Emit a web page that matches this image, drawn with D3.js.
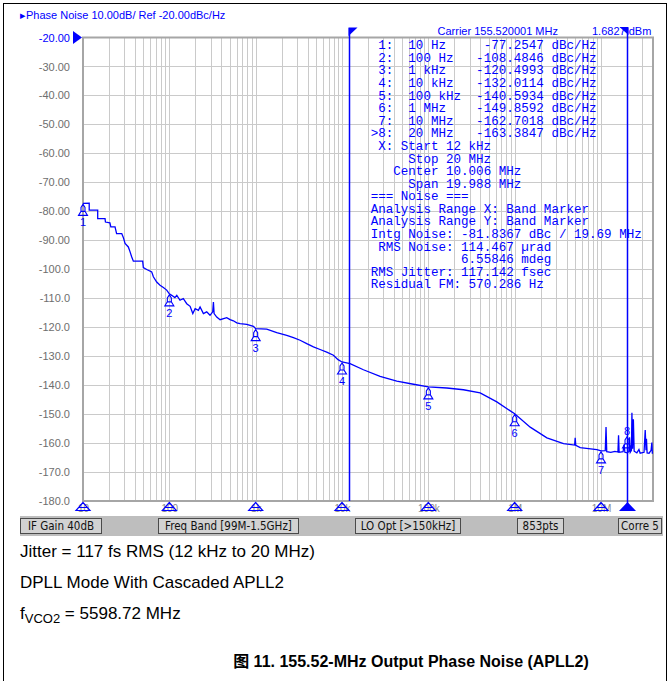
<!DOCTYPE html>
<html><head><meta charset="utf-8">
<script src="https://cdn.jsdelivr.net/npm/d3@7"></script>
<style>body{margin:0;background:#fff}svg{display:block}</style>
</head><body>
<svg id="c" width="669" height="681"></svg>
<script>
// ---------- DATA ----------
const freqHz = [10,11.8,11.8,14.8,14.8,18.0,18.2,20.5,21.0,23.5,24.5,28.1,29.3,30.7,33.5,35.1,36.6,38.3,49.1,50.0,54.7,62.5,65.3,71.4,78.0,85.3,93.2,100,106.5,116,122,133,145,159,174,187,199,217,227,248,271,296,318,324,330,354,387,462,505,552,604,659,788,942,1000,1343,1754,2290,2737,3268,3905,4664,5571,6655,7956,9000,10000,12400,17700,27600,43100,67300,100000,163700,255000,398000,621000,1000000,1513000,2360000,3680000,4950000,5020000,5100000,5740000,8960000,10000000,11200000,11430000,11650000,13000000,14500000,15700000,15960000,16200000,18000000,18500000,18900000,20000000,21000000,21400000,21800000,22500000,22800000,23200000,23700000,24200000,26000000,27500000,28400000,31500000,32500000,33200000,33600000,34200000,36000000,38000000,38800000,39300000,40000000];
const noiseDbcHz = [-77.25,-77.2,-79.6,-79.6,-82.5,-82.5,-83.7,-84.0,-85.4,-85.4,-87.7,-87.7,-89.0,-91.1,-92.3,-94.0,-95.7,-97.2,-97.2,-99.4,-100.1,-100.9,-102.6,-104.4,-105.5,-106.3,-107.2,-108.5,-109.0,-109.8,-109.0,-110.7,-110.1,-111.9,-112.8,-115.3,-113.6,-114.2,-113.0,-115.3,-114.7,-115.9,-114.7,-111.3,-115.3,-116.5,-117.4,-116.7,-117.4,-117.8,-118.5,-118.8,-119.0,-119.7,-120.5,-120.7,-121.9,-122.8,-123.6,-124.5,-125.7,-126.8,-127.7,-128.6,-129.7,-131.2,-132.0,-132.6,-134.7,-137.0,-138.6,-139.7,-140.6,-141.0,-141.6,-142.7,-145.8,-149.9,-154.5,-158.2,-160.2,-160.7,-158.2,-160.8,-161.6,-162.3,-162.7,-162.6,-154.5,-163.0,-163.2,-162.9,-163.1,-157.3,-163.2,-163.0,-160.5,-163.2,-163.4,-163.0,-158.0,-163.2,-162.5,-149.5,-162.0,-151.8,-162.8,-163.4,-162.2,-163.5,-163.2,-155.5,-162.5,-158.5,-163.4,-163.5,-162.5,-159.8,-163.5,-163.5];
const markerFreqs = [10,100,1e3,1e4,1e5,1e6,1e7,2e7];
const markerVals = [-77.2547,-108.4846,-120.4993,-132.0114,-140.5934,-149.8592,-162.7018,-163.3847];
const markerFreqLabels = ["10 Hz","100 Hz","1 kHz","10 kHz","100 kHz","1 MHz","10 MHz","20 MHz"];
const yTicks = [-20,-30,-40,-50,-60,-70,-80,-90,-100,-110,-120,-130,-140,-150,-160,-170,-180];
const xTickVals = [10,100,1e3,1e4,1e5,1e6,1e7];
const xTickLabels = ["10","100","1k","10k","100k","1M","10M"];
const bandStart = 12e3, bandStop = 20e6;
const headerText = "\u25B8Phase Noise 10.00dB/ Ref -20.00dBc/Hz";
const carrierText = "Carrier 155.520001 MHz";
const powerText = "1.6827 dBm";
const statusLabels = ["IF Gain 40dB","Freq Band [99M-1.5GHz]","LO Opt [>150kHz]","853pts","Corre 5"];
const infoLines = [
  " X: Start 12 kHz",
  "     Stop 20 MHz",
  "   Center 10.006 MHz",
  "     Span 19.988 MHz",
  "=== Noise ===",
  "Analysis Range X: Band Marker",
  "Analysis Range Y: Band Marker",
  "Intg Noise: -81.8367 dBc / 19.69 MHz",
  " RMS Noise: 114.467 \u00B5rad",
  "            6.55846 mdeg",
  "RMS Jitter: 117.142 fsec",
  "Residual FM: 570.286 Hz"
];
const noteLines = ["Jitter = 117 fs RMS (12 kHz to 20 MHz)","DPLL Mode With Cascaded APLL2"];
const vcoNote = ["f","VCO2"," = 5598.72 MHz"];
const captionText = "\u56FE 11. 155.52-MHz Output Phase Noise (APLL2)";

// ---------- LAYOUT ----------
const L = 83, R = 653, T = 37.5, B = 501;
const BLUE = "#0000ff", GRID = "#cacaca", GRAYTXT = "#6e6e6e";
const btnBoxes = [[20,101],[158,298],[355,460],[517,563],[618,661]];

const svg = d3.select("#c");
svg.append("rect").attr("x",3.5).attr("y",3.5).attr("width",663).attr("height",690)
  .attr("fill","none").attr("stroke","#000").attr("stroke-width",1);

const x = d3.scaleLog().domain([10, 40e6]).range([L, R]);
const y = d3.scaleLinear().domain([-20, -180]).range([T, B]);

// grid
const g = svg.append("g");
g.selectAll(".vg").data(x.ticks().filter(t => t > 10 && t < 40e6)).join("line")
  .attr("x1", d => Math.round(x(d)) + 0.5).attr("x2", d => Math.round(x(d)) + 0.5)
  .attr("y1", T).attr("y2", B).attr("stroke", GRID).attr("stroke-width", 1);
g.selectAll(".hg").data(yTicks.slice(1, -1)).join("line")
  .attr("x1", L).attr("x2", R)
  .attr("y1", d => Math.round(y(d)) + 0.5).attr("y2", d => Math.round(y(d)) + 0.5)
  .attr("stroke", GRID).attr("stroke-width", 1);
svg.append("rect").attr("x", L).attr("y", T).attr("width", R - L).attr("height", B - T)
  .attr("fill", "none").attr("stroke", "#a6a6a6").attr("stroke-width", 2);

// y axis labels
const yAxis = d3.axisLeft(y).tickValues(yTicks).tickSize(0).tickPadding(13)
  .tickFormat(d => d > -100 ? d.toFixed(2) : d.toFixed(1));
const ya = svg.append("g").attr("transform", `translate(${L},0)`).call(yAxis);
ya.select(".domain").remove();
ya.selectAll("text").attr("font-family", "Liberation Sans, Arial, sans-serif").attr("font-size", 11)
  .attr("fill", (d, i) => i === 0 ? BLUE : GRAYTXT);
svg.append("path").attr("d", `M73,31 L82,${T} L73,44 Z`).attr("fill", BLUE);

// x axis labels
const xAxis = d3.axisBottom(x).tickValues(xTickVals).tickSize(0).tickPadding(4)
  .tickFormat((d, i) => xTickLabels[i]);
const xa = svg.append("g").attr("transform", `translate(0,${B})`).call(xAxis);
xa.select(".domain").remove();
xa.selectAll("text").attr("font-family", "Liberation Sans, Arial, sans-serif").attr("font-size", 10)
  .attr("fill", "#8a8a8a");
svg.selectAll(".xt").data(xTickVals).join("path")
  .attr("d", d => { const cx = x(d); return `M${cx},${B+1.5} L${cx-7},${B+9.5} L${cx+7},${B+9.5} Z M${cx-4},${B+6.5} L${cx+4},${B+6.5}`; })
  .attr("fill", "none").attr("stroke", BLUE).attr("stroke-width", 1.2);

// header texts
const txt = (t, px, py, opt = {}) => svg.append("text").text(t).attr("x", px).attr("y", py)
  .attr("font-family", opt.ff || "Liberation Sans, Arial, sans-serif").attr("font-size", opt.fs || 11)
  .attr("fill", opt.fill || BLUE).attr("font-weight", opt.fw || "normal")
  .attr("text-anchor", opt.anchor || "start");
txt(headerText, 20, 19);
txt(carrierText, 437.5, 35);
txt(powerText, 592, 35);

// data line
svg.append("clipPath").attr("id", "pc").append("rect").attr("x", L).attr("y", T).attr("width", R - L).attr("height", B - T);
const pts = freqHz.map((f, i) => [f, noiseDbcHz[i]]);
svg.append("path").datum(pts).attr("clip-path", "url(#pc)")
  .attr("d", d3.line().x(d => x(d[0])).y(d => y(d[1])))
  .attr("fill", "none").attr("stroke", BLUE).attr("stroke-width", 1.3).attr("stroke-linejoin", "miter");

// band markers
[bandStart, bandStop].forEach((f, i) => {
  const bx = Math.round(x(f)) + 0.5;
  svg.append("line").attr("x1", bx).attr("x2", bx).attr("y1", 28).attr("y2", B + (i ? 3 : 0))
    .attr("stroke", BLUE).attr("stroke-width", 1.5);
  svg.append("path").attr("d", i === 0 ? `M${bx-1},27.5 L${bx+8},27.5 L${bx-1},36 Z` : `M${bx+1},27 L${bx-8},27 L${bx+1},35 Z`)
    .attr("fill", BLUE);
});
const sx = Math.round(x(bandStop)) + 0.5;
svg.append("path").attr("d", `M${sx},${B+1} L${sx-8.5},${B+10} L${sx+8.5},${B+10} Z`).attr("fill", BLUE);

// curve markers
const mk = svg.append("g");
markerFreqs.forEach((f, i) => {
  const cx = x(f), cy = y(markerVals[i]);
  const up = i === 7;
  const ty = up ? cy - 16 : cy + 1;
  mk.append("path")
    .attr("d", `M${cx},${ty} L${cx-2},${ty+3} L${cx-2},${ty+7} L${cx-4.5},${ty+11} L${cx+4.5},${ty+11} L${cx+2},${ty+7} L${cx+2},${ty+3} Z M${cx-2},${ty+7} L${cx+2},${ty+7}`)
    .attr("fill", "none").attr("stroke", BLUE).attr("stroke-width", 1.1);
  mk.append("text").text(i + 1).attr("x", cx).attr("y", up ? cy - 18 : cy + 23)
    .attr("text-anchor", "middle").attr("font-family", "Liberation Sans, Arial, sans-serif")
    .attr("font-size", 11).attr("fill", BLUE);
});

// info block (monospace)
const CW = 7.53, X0 = 370.7, Y0 = 45, LH = 12.58;
const markerLines = markerFreqs.map((f, i) => {
  const v = markerVals[i].toFixed(4);
  const head = (i === 7 ? ">8" : " " + (i + 1)) + ":  " + markerFreqLabels[i];
  return head.padEnd(23 - v.length) + v + " dBc/Hz";
});
const allLines = markerLines.concat(infoLines);
svg.append("g").selectAll("text").data(allLines).join("text")
  .attr("x", X0).attr("y", (d, i) => Y0 + i * LH + 4.3)
  .attr("xml:space", "preserve").style("white-space", "pre")
  .attr("font-family", "Liberation Mono, DejaVu Sans Mono, monospace").attr("font-size", 12.55)
  .attr("fill", BLUE)
  .attr("textLength", d => d.length * CW).attr("lengthAdjust", "spacingAndGlyphs")
  .text(d => d);

// status bar
svg.append("rect").attr("x", 20).attr("y", 516).attr("width", 643).attr("height", 20).attr("fill", "#bebebe");
btnBoxes.forEach(([a, b], i) => {
  svg.append("rect").attr("x", a + 0.5).attr("y", 518.5).attr("width", b - a).attr("height", 15)
    .attr("fill", "#d2d2d2").attr("stroke", "#4a4a4a").attr("stroke-width", 1);
  txt(statusLabels[i], (a + b) / 2 + 0.5, 530, { fill: "#111", fs: 11.5, anchor: "middle", ff: "DejaVu Sans Condensed, Liberation Sans, sans-serif" });
});

// notes
noteLines.forEach((t, i) => txt(t, 20, 557 + i * 31, { fill: "#000", fs: 17 }));
const v = svg.append("text").attr("x", 20).attr("y", 619).attr("font-family", "Liberation Sans, Arial, sans-serif")
  .attr("font-size", 17).attr("fill", "#000");
v.append("tspan").text(vcoNote[0]);
v.append("tspan").text(vcoNote[1]).attr("dy", 4).attr("font-size", 13);
v.append("tspan").text(vcoNote[2]).attr("dy", -4);
txt(captionText, 411, 667, { fill: "#000", fs: 16, fw: "bold", anchor: "middle", ff: "Liberation Sans, Arial, 'Noto Sans CJK SC', sans-serif" });
</script>
</body></html>
